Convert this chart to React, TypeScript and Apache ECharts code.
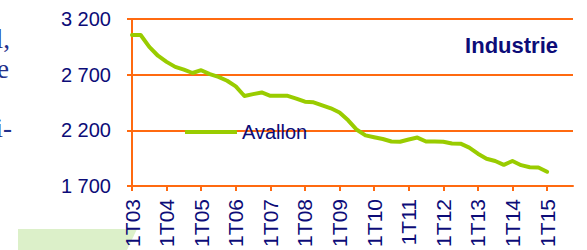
import React, { useEffect, useRef } from "react";
import * as echarts from "echarts";

const categories = [
  "1T03", "2T03", "3T03", "4T03",
  "1T04", "2T04", "3T04", "4T04",
  "1T05", "2T05", "3T05", "4T05",
  "1T06", "2T06", "3T06", "4T06",
  "1T07", "2T07", "3T07", "4T07",
  "1T08", "2T08", "3T08", "4T08",
  "1T09", "2T09", "3T09", "4T09",
  "1T10", "2T10", "3T10", "4T10",
  "1T11", "2T11", "3T11", "4T11",
  "1T12", "2T12", "3T12", "4T12",
  "1T13", "2T13", "3T13", "4T13",
  "1T14", "2T14", "3T14", "4T14",
  "1T15", "2T15", "3T15", "4T15",
];

const avallon = [
  3056, 3056, 2950, 2870,
  2815, 2770, 2745, 2715,
  2740, 2705, 2680, 2645,
  2595, 2508, 2525, 2540,
  2510, 2510, 2510, 2485,
  2457, 2452, 2425, 2398,
  2360, 2290, 2205, 2155,
  2138, 2122, 2100, 2098,
  2118, 2135, 2100, 2100,
  2098, 2082, 2080, 2045,
  1990, 1945, 1925, 1890,
  1925, 1887, 1868, 1866,
  1828,
];

const yTicks = [1700, 2200, 2700, 3200];
const yTickLabels = ["1 700", "2 200", "2 700", "3 200"];

const seriesName = "Avallon";
const chartTitle = "Industrie";
const sideTexts = ["l,", "e", "i-"];

const NAVY = "#0c0c78";
const ORANGE = "#ff6a10";
const GREEN = "#99cc00";

export default function App() {
  const ref = useRef<HTMLDivElement>(null);

  useEffect(() => {
    document.body.style.margin = "0";
    if (!ref.current) return;
    const chart = echarts.init(ref.current, null, { renderer: "svg" });
    chart.setOption({
      animation: false,
      backgroundColor: "#ffffff",
      textStyle: { fontFamily: "Liberation Sans" },
      title: {
        text: chartTitle,
        right: 29,
        top: 34,
        padding: 0,
        textStyle: {
          color: NAVY,
          fontSize: 22,
          fontWeight: "bold",
          fontFamily: "Liberation Sans",
        },
      },
      legend: {
        data: [seriesName],
        left: 185,
        top: 122,
        padding: 0,
        itemWidth: 52,
        itemHeight: 4,
        icon: "rect",
        itemStyle: { color: GREEN },
        textStyle: {
          color: NAVY,
          fontSize: 20,
          fontFamily: "Liberation Sans",
        },
      },
      grid: { left: 132, top: 19, right: 14, bottom: 64, containLabel: false },
      xAxis: {
        type: "category",
        data: categories,
        boundaryGap: false,
        axisLine: { lineStyle: { color: ORANGE, width: 2 } },
        axisTick: {
          show: true,
          length: 5,
          interval: (i: number) => i % 4 === 0,
          lineStyle: { color: ORANGE, width: 2 },
        },
        axisLabel: {
          interval: (i: number) => i % 4 === 0,
          rotate: 90,
          margin: 13,
          color: NAVY,
          fontSize: 21,
          fontFamily: "Liberation Sans",
        },
        splitLine: { show: false },
      },
      yAxis: {
        type: "value",
        min: 1700,
        max: 3200,
        interval: 500,
        axisLine: { show: true, lineStyle: { color: ORANGE, width: 2 } },
        axisTick: { show: true, length: 5, lineStyle: { color: ORANGE, width: 2 } },
        axisLabel: {
          margin: 21,
          color: NAVY,
          fontSize: 20,
          fontFamily: "Liberation Sans",
          formatter: (v: number) => {
            const idx = yTicks.indexOf(v);
            return idx >= 0 ? yTickLabels[idx] : String(v);
          },
        },
        splitLine: { show: true, lineStyle: { color: ORANGE, width: 2 } },
      },
      series: [
        {
          name: seriesName,
          type: "line",
          data: avallon,
          symbol: "none",
          showSymbol: false,
          color: GREEN,
          lineStyle: { color: GREEN, width: 4, join: "round", cap: "round" },
          z: 3,
        },
      ],
      graphic: [
        {
          type: "polygon",
          shape: { points: [[18, 229], [137, 229], [127, 250], [18, 250]] },
          style: { fill: "#dcf0c9" },
          z: -1,
        },
        {
          type: "text",
          x: 10,
          y: 52,
          style: {
            text: sideTexts[0],
            fill: "#23308a",
            font: "27px 'Liberation Serif'",
            textAlign: "right",
            textVerticalAlign: "bottom",
          },
        },
        {
          type: "text",
          x: 9,
          y: 82,
          style: {
            text: sideTexts[1],
            fill: "#23308a",
            font: "27px 'Liberation Serif'",
            textAlign: "right",
            textVerticalAlign: "bottom",
          },
        },
        {
          type: "text",
          x: 12,
          y: 141,
          style: {
            text: sideTexts[2],
            fill: "#23308a",
            font: "27px 'Liberation Serif'",
            textAlign: "right",
            textVerticalAlign: "bottom",
          },
        },
      ],
    });
    return () => chart.dispose();
  }, []);

  return (
    <div
      ref={ref}
      style={{ position: "fixed", left: 0, top: 0, width: 587, height: 250 }}
    />
  );
}
